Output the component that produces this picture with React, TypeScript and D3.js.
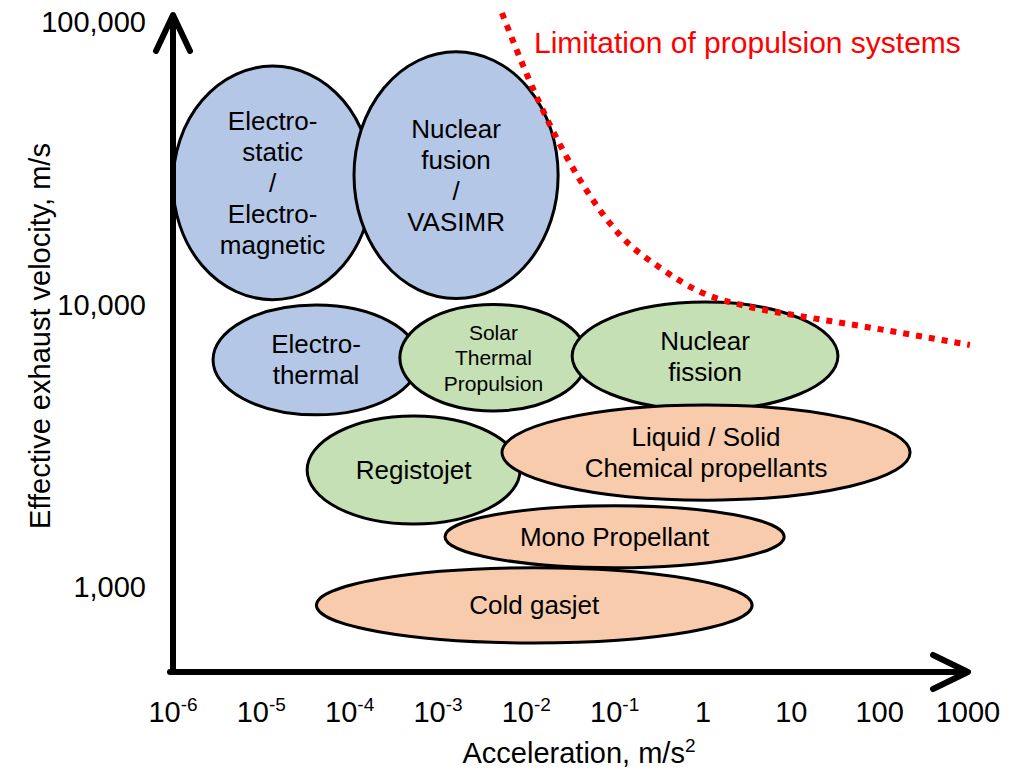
import React from "react"
import * as d3 from "d3"

// propulsion systems (edges of each ellipse)
const names = [
	"Electrostatic / Electromagnetic",
	"Nuclear fusion / VASIMR",
	"Electrothermal",
	"Solar Thermal Propulsion",
	"Nuclear fission",
	"Registojet",
	"Liquid / Solid Chemical propellants",
	"Mono Propellant",
	"Cold gasjet",
]
const labelLines = [
	["Electro-", "static", "/", "Electro-", "magnetic"],
	["Nuclear", "fusion", "/", "VASIMR"],
	["Electro-", "thermal"],
	["Solar", "Thermal", "Propulsion"],
	["Nuclear", "fission"],
	["Registojet"],
	["Liquid / Solid", "Chemical propellants"],
	["Mono Propellant"],
	["Cold gasjet"],
]
const groups = ["electric", "electric", "electric", "thermal", "thermal", "thermal", "chemical", "chemical", "chemical"]
const accMin = [1e-6, 1.12e-4, 2.84e-6, 3.7e-4, 0.033, 3.3e-5, 5.3e-3, 1.2e-3, 4.2e-5]
const accMax = [1.8e-4, 0.0229, 6.1e-4, 0.0487, 33.7, 8.5e-3, 221, 8.3, 3.6]
const velMin = [10400, 10500, 4070, 4200, 4230, 1670, 2030, 1170, 634]
const velMax = [69800, 78400, 9960, 10000, 10200, 4030, 4410, 1940, 1170]

// red dotted limit line
const limitAcc = [5.3e-3, 1.02e-2, 1.85e-2, 4.05e-2, 0.115, 0.326, 0.925, 3.4, 12.5, 60, 1050]
const limitVel = [107600, 64900, 43200, 27600, 17600, 13500, 11100, 9800, 9100, 8400, 7190]

// ticks
const xTicks = [1e-6, 1e-5, 1e-4, 1e-3, 1e-2, 1e-1, 1, 10, 100, 1000]
const xTickBase = ["10", "10", "10", "10", "10", "10", "1", "10", "100", "1000"]
const xTickExp = ["-6", "-5", "-4", "-3", "-2", "-1", "", "", "", ""]
const yTicks = [1000, 10000, 100000]
const yTickLabels = ["1,000", "10,000", "100,000"]

const colors = {
	electric: "#B4C7E7",
	thermal: "#C5E0B4",
	chemical: "#F8CBAD",
}

const font = "'Liberation Sans', Arial, sans-serif"

const App = () => {
	const width = 1014
	const height = 771

	const x = d3.scaleLog().domain([1e-6, 1000]).range([173, 968])
	const y = d3.scaleLog().domain([1000, 100000]).range([587, 22])

	const axisX = x(1e-6)
	const axisY = 672
	const arrowTop = 15
	const arrowRight = x(1000)

	const line = d3
		.line<number>()
		.x((d, i) => x(limitAcc[i]))
		.y((d, i) => y(limitVel[i]))
		.curve(d3.curveMonotoneX)

	const shapes = names.map((name, i) => {
		const x0 = x(accMin[i])
		const x1 = x(accMax[i])
		const y0 = y(velMin[i])
		const y1 = y(velMax[i])
		return {
			name,
			lines: labelLines[i],
			group: groups[i],
			cx: (x0 + x1) / 2,
			cy: (y0 + y1) / 2,
			rx: (x1 - x0) / 2,
			ry: Math.abs(y0 - y1) / 2,
		}
	})

	return (
		<svg
			width={width}
			height={height}
			style={{ position: "absolute", left: 0, top: 0, display: "block", background: "#fff" }}
			fontFamily={font}
		>
			{shapes.map((s) => {
				const small = s.lines.length === 3
				const size = small ? 21 : 26
				const lh = small ? 25.5 : 31
				const n = s.lines.length
				return (
					<g key={s.name}>
						<ellipse
							cx={s.cx}
							cy={s.cy}
							rx={s.rx}
							ry={s.ry}
							fill={colors[s.group]}
							stroke="#000"
							strokeWidth={3}
						/>
						<text textAnchor="middle" fontSize={size} fill="#000">
							{s.lines.map((t, j) => (
								<tspan key={j} x={s.cx} y={s.cy + (j - (n - 1) / 2) * lh + size * 0.35}>
									{t}
								</tspan>
							))}
						</text>
					</g>
				)
			})}

			{/* limitation curve */}
			<path
				d={line(limitAcc) || ""}
				fill="none"
				stroke="#FF0000"
				strokeWidth={6}
				strokeDasharray="6 7"
			/>
			<text x={534} y={53} fontSize={30} fill="#FF0000">
				Limitation of propulsion systems
			</text>

			{/* axes */}
			<path
				d={`M${axisX},${axisY}V${arrowTop + 3}M${axisX - 17},${arrowTop + 36}L${axisX},${arrowTop}L${axisX + 17},${arrowTop + 36}`}
				fill="none"
				stroke="#000"
				strokeWidth={6}
				strokeLinecap="round"
				strokeLinejoin="round"
			/>
			<path
				d={`M${axisX - 3},${axisY}H${arrowRight - 3}M${arrowRight - 35},${axisY - 17}L${arrowRight},${axisY}L${arrowRight - 35},${axisY + 17}`}
				fill="none"
				stroke="#000"
				strokeWidth={6}
				strokeLinecap="round"
				strokeLinejoin="round"
			/>

			{/* x tick labels */}
			{xTicks.map((t, i) => (
				<text key={t} x={x(t)} y={722} textAnchor="middle" fontSize={29} fill="#000">
					{xTickBase[i]}
					{xTickExp[i] && (
						<tspan fontSize={19} dy={-11}>
							{xTickExp[i]}
						</tspan>
					)}
				</text>
			))}

			{/* y tick labels */}
			{yTicks.map((t, i) => (
				<text key={t} x={146} y={y(t) + 10} textAnchor="end" fontSize={29} fill="#000">
					{yTickLabels[i]}
				</text>
			))}

			{/* axis titles */}
			<text x={579} y={763} textAnchor="middle" fontSize={29} fill="#000">
				Acceleration, m/s
				<tspan fontSize={19} dy={-11}>
					2
				</tspan>
			</text>
			<text
				transform={`translate(50, 336) rotate(-90)`}
				textAnchor="middle"
				fontSize={29}
				fill="#000"
			>
				Effective exhaust velocity, m/s
			</text>
		</svg>
	)
}

export default App
